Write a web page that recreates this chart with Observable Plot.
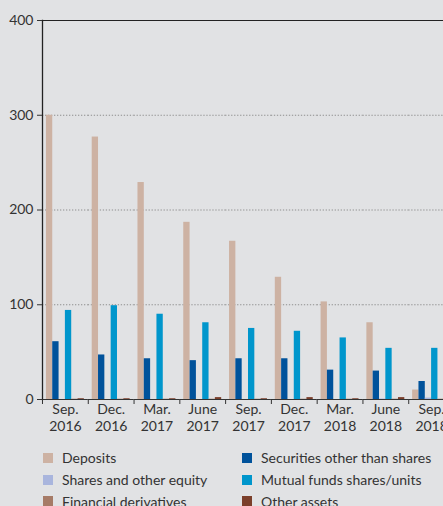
<!DOCTYPE html>
<html><head><meta charset="utf-8">
<script src="https://cdn.jsdelivr.net/npm/d3@7"></script>
<script src="https://cdn.jsdelivr.net/npm/@observablehq/plot@0.6"></script>
<style>
html,body{margin:0;padding:0;background:#e1e2e4;overflow:hidden;width:443px;height:506px}
#legend{display:grid;grid-template-columns:199px 200px;padding-left:43px;font:14px Lato,sans-serif;color:#333;margin-top:7px}
.item{display:flex;align-items:center;height:21.7px;white-space:nowrap}
.sw{width:10px;height:10px;margin-right:9px;flex:none}
</style></head><body><div id="chart"></div><div id="legend"></div>
<script>
const periods = ["Sep.\n2016","Dec.\n2016","Mar.\n2017","June\n2017","Sep.\n2017","Dec.\n2017","Mar.\n2018","June\n2018","Sep.\n2018"];
const series = ["Deposits","Securities other than shares","Shares and other equity","Mutual funds shares/units","Financial derivatives","Other assets"];
const colors = ["#cdb2a3","#00529b","#a9b5dd","#0096cc","#a67b67","#7b3f2b"];
const deposits    = [300, 277, 229, 187, 167, 129, 103, 81, 10];
const securities  = [61, 47, 43, 41, 43, 43, 31, 30, 19];
const shares      = [0, 0, 0, 0, 0, 0, 0, 0.5, 1.5];
const mutualFunds = [94, 99, 90, 81, 75, 72, 65, 54, 54];
const derivatives = [0.3, 0.3, 0.3, 0.3, 0.3, 0.3, 0.3, 0.3, 0.3];
const otherAssets = [0.8, 0.8, 0.8, 2, 0.8, 2, 0.8, 2, 0.8];
const yTicks = [0, 100, 200, 300, 400];
const gridTicks = [100, 200, 300];

const valuesBySeries = [deposits, securities, shares, mutualFunds, derivatives, otherAssets];
const rows = periods.flatMap((p, i) => series.map((s, j) => ({period: p, series: s, value: valuesBySeries[j][i]})));

const W = 443, ML = 42, MR = -11;
const band = (W - MR - ML) / periods.length;

const chart = Plot.plot({
  width: W, height: 440,
  marginTop: 20, marginBottom: 41, marginLeft: ML, marginRight: MR,
  style: {background: "#e1e2e4", fontFamily: "Lato, sans-serif", fontSize: "14px", color: "#333"},
  fx: {domain: periods, padding: 0, round: false, label: null},
  x: {domain: series, paddingInner: 0, paddingOuter: 0.62, round: false, axis: null},
  y: {domain: [0, 400], label: null},
  color: {domain: series, range: colors},
  marks: [
    Plot.ruleY(gridTicks, {stroke: "#8f8f8f", strokeDasharray: "1.3,1.7"}),
    Plot.barY(rows, {fx: "period", x: "series", y: "value", fill: "series"}),
    Plot.ruleY([0], {stroke: "#333", strokeWidth: 1.2}),
    Plot.frame({anchor: "top", facet: "super", stroke: "#222"}),
    Plot.frame({anchor: "left", facet: "super", stroke: "#222", strokeWidth: 1.3}),
    Plot.axisY({ticks: yTicks, tickSize: 5, tickPadding: 4, label: null, fontSize: 14}),
    Plot.axisFx({anchor: "bottom", tickSize: 0, tickPadding: 3, lineHeight: 1.2, label: null, fontSize: 14}),
    Plot.axisFx({anchor: "bottom", tickSize: 5, tickFormat: () => "", dx: -band / 2, label: null, stroke: "#333"})
  ]
});
document.getElementById("chart").appendChild(chart);

const legend = document.getElementById("legend");
series.forEach((s, i) => {
  const it = document.createElement("div");
  it.className = "item";
  it.innerHTML = `<span class="sw" style="background:${colors[i]}"></span><span>${s}</span>`;
  legend.appendChild(it);
});
</script></body></html>
